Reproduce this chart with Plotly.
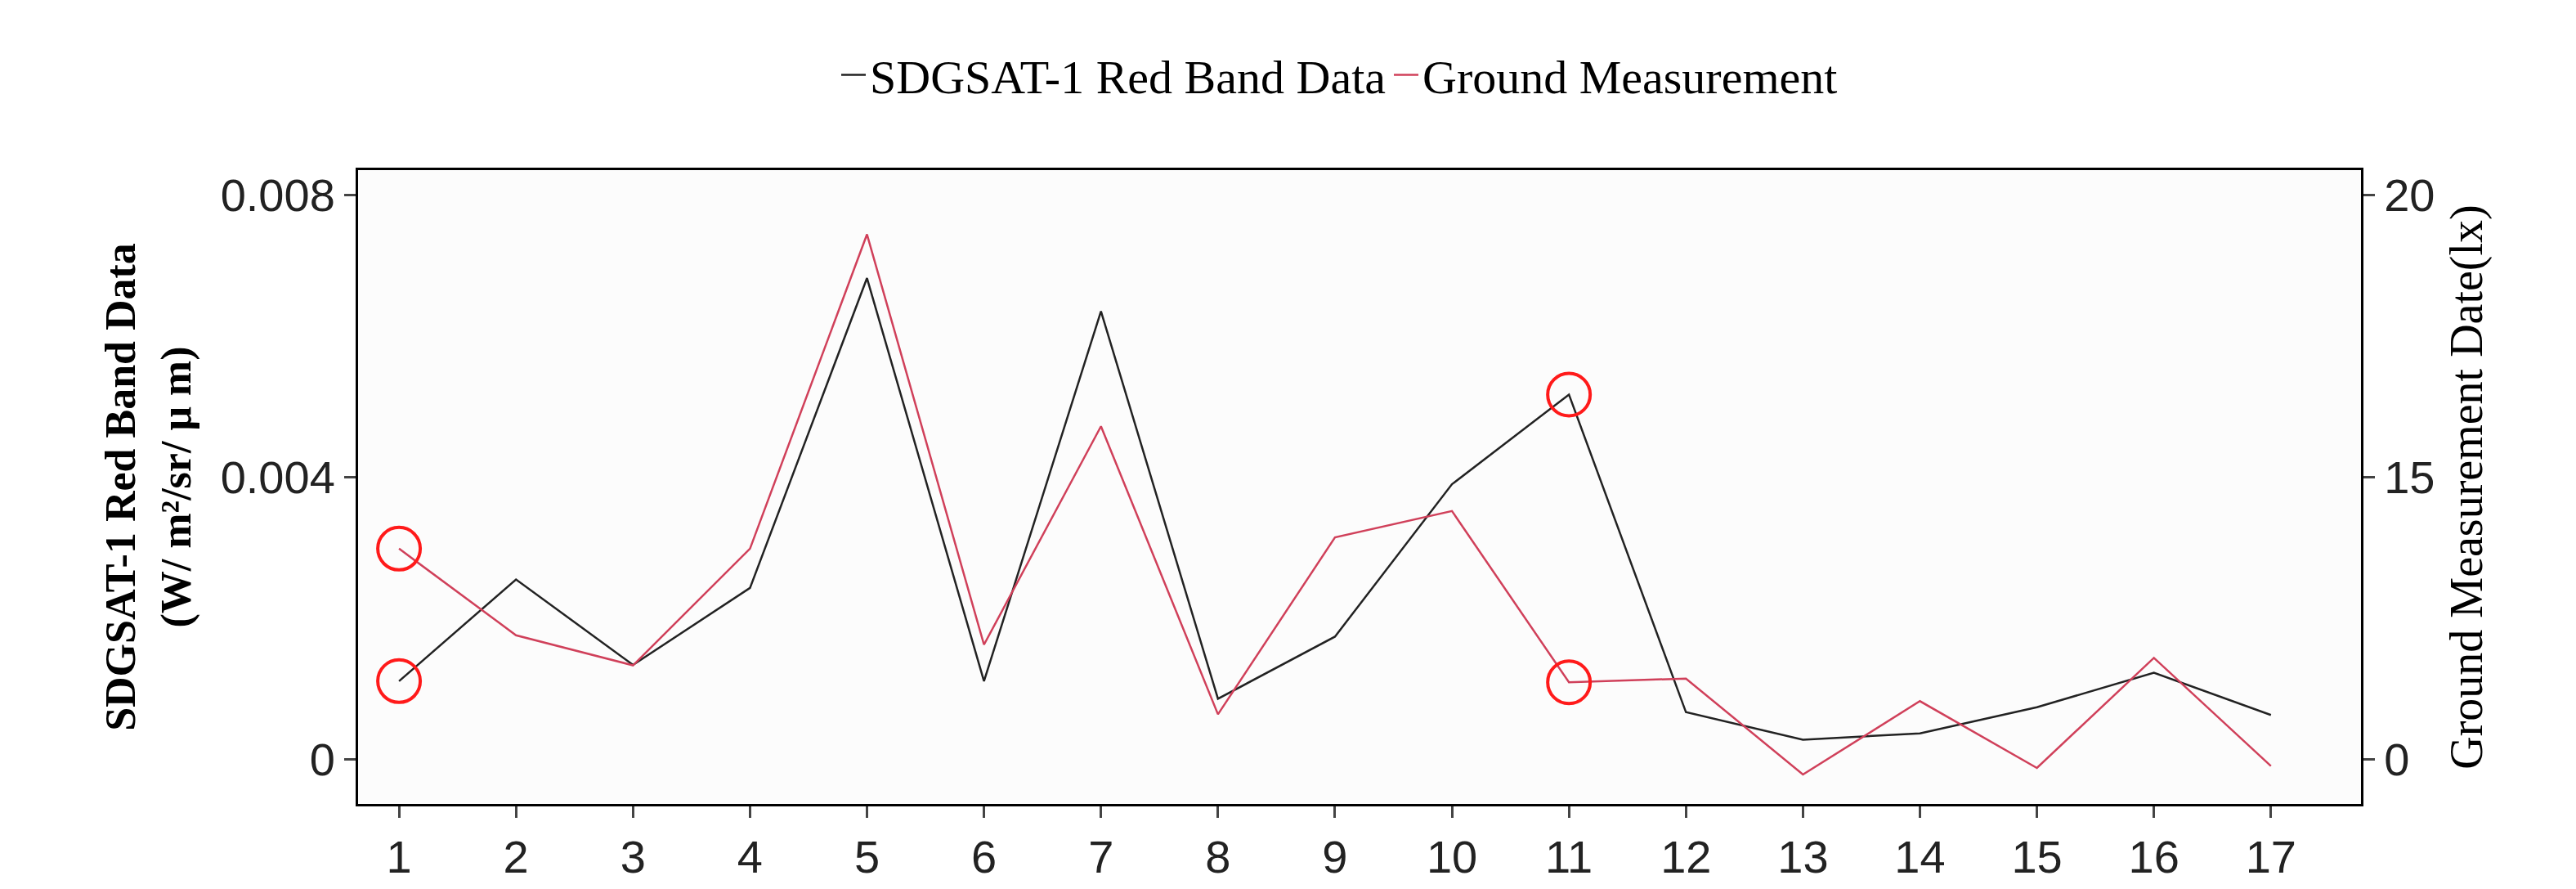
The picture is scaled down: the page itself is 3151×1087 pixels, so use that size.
import plotly.graph_objects as go
import numpy as np

x = list(range(1, 18))
satellite = [0.00111, 0.00255, 0.00134, 0.00243, 0.00682, 0.00111, 0.00635, 0.00086, 0.00174,
             0.0039, 0.00517, 0.00067, 0.00028, 0.00037, 0.00074, 0.00123, 0.00063]
ground_lx = [11.2, 6.6, 5.0, 11.2, 19.3, 6.1, 15.9, 2.4, 11.8, 13.2, 4.1, 4.3, -0.8, 3.1, -0.45, 5.4, -0.35]
right_ticks = [0, 15, 20]
right_pos = [0, 0.004, 0.008]

def lx_to_left(v):
    if v < 0:
        return v * 0.004 / 15
    return float(np.interp(v, right_ticks, right_pos))

ground = [lx_to_left(v) for v in ground_lx]

fig = go.Figure()
fig.add_trace(go.Scatter(x=x, y=satellite, mode="lines", name="SDGSAT-1 Red Band Data",
                         line=dict(color="#222222", width=2.5)))
fig.add_trace(go.Scatter(x=x, y=ground, mode="lines", name="Ground Measurement",
                         line=dict(color="#d0405a", width=2.5)))
cx = [1, 1, 11, 11]
cy = [satellite[0], ground[0], satellite[10], ground[10]]
fig.add_trace(go.Scatter(x=cx, y=cy, mode="markers", showlegend=False,
                         marker=dict(symbol="circle-open", size=52, color="#ff1a1a", line=dict(width=4))))
fig.add_trace(go.Scatter(x=[None], y=[None], yaxis="y2", showlegend=False))

yr = [-0.00063, 0.00835]
fig.update_layout(
    width=3151, height=1087,
    margin=dict(l=430, r=271, t=200, b=112),
    paper_bgcolor="white", plot_bgcolor="#fcfcfc",
    font=dict(family="Liberation Sans", size=56, color="#222"),
    legend=dict(orientation="h", x=0.49, xanchor="center", y=1.15, yanchor="middle",
                font=dict(family="Liberation Serif", size=58, color="black"), traceorder="normal"),
    xaxis=dict(range=[0.65, 17.77], tickvals=x, ticks="outside", ticklen=14, tickwidth=3,
               showgrid=False, zeroline=False, showline=True, linecolor="black", linewidth=3, mirror=True),
    yaxis=dict(range=yr, tickvals=[0, 0.004, 0.008], ticktext=["0", "0.004", "0.008"],
               ticks="outside", ticklen=14, tickwidth=3, showgrid=False, zeroline=False,
               showline=True, linecolor="black", linewidth=3,
               title=dict(text="<b>SDGSAT-1 Red Band Data<br>(W/ m²/sr/ μ m)</b>",
                          font=dict(family="Liberation Serif", size=52, color="black"), standoff=20)),
    yaxis2=dict(range=yr, overlaying="y", side="right", tickvals=right_pos,
                ticktext=[str(t) for t in right_ticks], ticks="outside", ticklen=14, tickwidth=3,
                showgrid=False, zeroline=False, showline=True, linecolor="black", linewidth=3,
                title=dict(text="Ground Measurement Date(lx)",
                           font=dict(family="Liberation Serif", size=56, color="black"), standoff=20)),
)
fig.write_html("out.html")
